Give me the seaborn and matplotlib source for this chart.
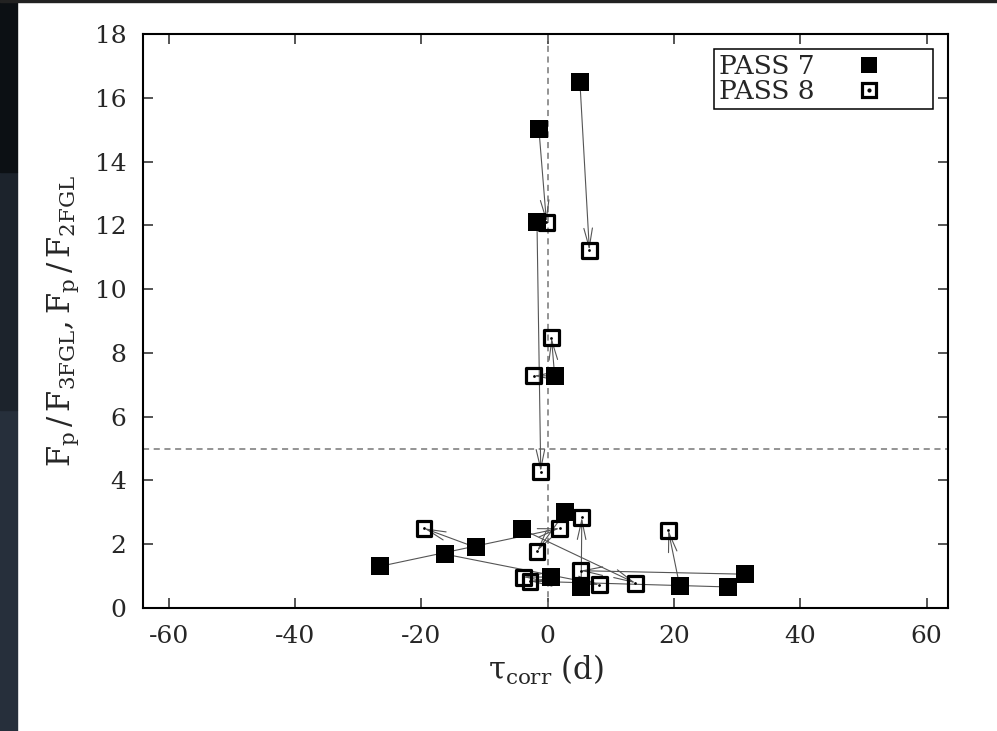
import matplotlib
matplotlib.use("Agg")
import matplotlib.pyplot as plt
import seaborn as sns
import pandas as pd
from matplotlib.lines import Line2D
from matplotlib.patches import Rectangle

# PASS 7 peak-flux ratios (filled squares)
pass7_tau = [-26.5, -16.3, -11.4, -4.1, 2.8, 0.6, 5.3, 20.9, 28.6, 31.3, -1.4, 5.1, -1.7, 1.1]
pass7_ratio = [1.31, 1.69, 1.90, 2.47, 3.02, 0.97, 0.65, 0.69, 0.66, 1.06, 15.03, 16.5, 12.1, 7.28]

# PASS 8 peak-flux ratios (open squares with a dot)
pass8_tau = [-19.6, -3.9, -2.8, -1.7, 1.9, 5.4, 5.2, 8.2, 13.9, 19.1, -0.2, 6.6, 0.6, -2.2, -1.1]
pass8_ratio = [2.50, 0.97, 0.84, 1.78, 2.50, 2.84, 1.17, 0.73, 0.78, 2.44, 12.1, 11.22, 8.47, 7.28, 4.28]

# arrows: index into pass7 -> index into pass8
arrow_from = [10, 11, 12, 13, 13, 0, 2, 4, 3, 1, 5, 8, 6, 9, 7]
arrow_to = [10, 11, 14, 12, 13, 4, 0, 3, 8, 7, 1, 2, 5, 6, 9]

x_ticks = [-60, -40, -20, 0, 20, 40, 60]
y_ticks = [0, 2, 4, 6, 8, 10, 12, 14, 16, 18]

sns.set_style("ticks")
plt.rcParams["font.family"] = ["DejaVu Serif"]
plt.rcParams["mathtext.fontset"] = "dejavuserif"
plt.rcParams["axes.unicode_minus"] = False

p7 = pd.DataFrame({"tau": pass7_tau, "ratio": pass7_ratio})
p8 = pd.DataFrame({"tau": pass8_tau, "ratio": pass8_ratio})

fig = plt.figure(figsize=(9.97, 7.31), dpi=100)
# dark slide strip on the left edge of the screenshot
W, H = 997, 731
for y0, y1, c in [(0, 321, "#262f3b"), (321, 559, "#1c232c"), (559, 731, "#0c1014")]:
    fig.patches.append(Rectangle((0, y0 / H), 17 / W, (y1 - y0) / H,
                                 transform=fig.transFigure, color=c, zorder=0))
fig.patches.append(Rectangle((0, 1 - 1.5 / H), 1, 1.5 / H,
                             transform=fig.transFigure, color="#222222", zorder=0))

ax = fig.add_axes([143 / W, 1 - 608 / H, (948 - 143) / W, (608 - 34) / H])

ax.axvline(0, color="#777777", ls=(0, (4, 3)), lw=1.1, zorder=1)
ax.axhline(5, color="#777777", ls=(0, (4, 3)), lw=1.1, zorder=1)

for i, j in zip(arrow_from, arrow_to):
    ax.annotate("", xy=(pass8_tau[j], pass8_ratio[j]),
                xytext=(pass7_tau[i], pass7_ratio[i]),
                arrowprops=dict(arrowstyle="->,head_length=1.0,head_width=0.22",
                                color="#555555", lw=0.8, shrinkA=0, shrinkB=0,
                                mutation_scale=14),
                zorder=2)

sns.scatterplot(data=p7, x="tau", y="ratio", marker="s", s=150, color="black",
                linewidth=0, ax=ax, zorder=3, legend=False)
sns.scatterplot(data=p8, x="tau", y="ratio", marker="s", s=115, facecolor="none",
                edgecolor="black", linewidth=2.3, ax=ax, zorder=3, legend=False)
sns.scatterplot(data=p8, x="tau", y="ratio", marker="o", s=4, color="black",
                linewidth=0, ax=ax, zorder=3, legend=False)

ax.set_xlim(-64.1, 63.4)
ax.set_ylim(0, 18)
ax.set_xticks(x_ticks)
ax.set_yticks(y_ticks)
ax.tick_params(direction="in", top=True, right=True, length=7, width=1.1,
               labelsize=18, pad=12)
for sp in ax.spines.values():
    sp.set_linewidth(1.5)
    sp.set_color("black")

ax.set_xlabel(r"$\mathregular{\tau_{corr}}$ (d)", fontsize=22, labelpad=4)
ax.set_ylabel(r"$\mathregular{F_p\,/\,F_{3FGL}, F_p\,/\,F_{2FGL}}$", fontsize=22, labelpad=10)

h7 = Line2D([], [], marker="s", ls="none", color="black", markersize=12, markeredgewidth=0)
h8a = Line2D([], [], marker="s", ls="none", markerfacecolor="none",
             markeredgecolor="black", markersize=10.5, markeredgewidth=2.3)
h8b = Line2D([], [], marker="o", ls="none", color="black", markersize=2)
leg = ax.legend([h7, (h8a, h8b)], ["PASS 7", "PASS 8"], loc="upper right",
                markerfirst=False, fontsize=19, frameon=True, fancybox=False,
                edgecolor="black", framealpha=1, borderaxespad=0.55,
                handlelength=4.5, handletextpad=-0.2, borderpad=0.2,
                labelspacing=0.0)
leg.get_frame().set_linewidth(1.1)

fig.savefig("out.png", dpi=100)
